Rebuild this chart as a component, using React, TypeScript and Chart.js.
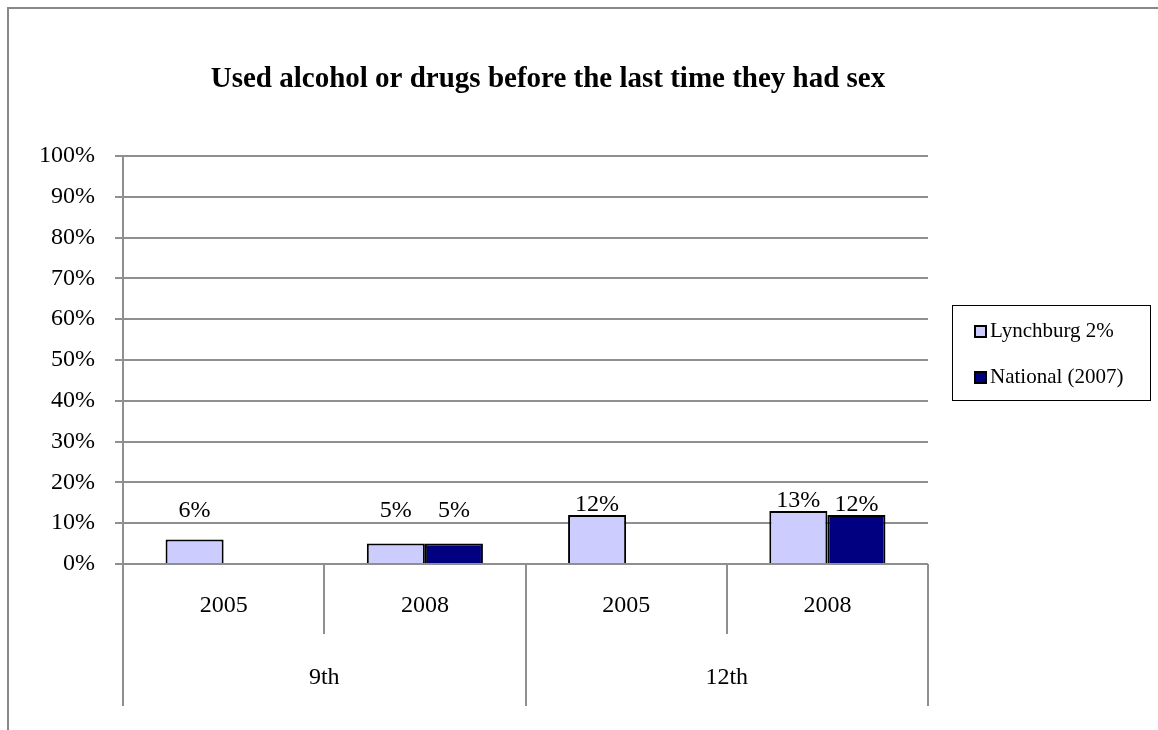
import React, { useEffect, useRef } from "react";
import { Chart, registerables } from "chart.js";

Chart.register(...registerables);

const TITLE = "Used alcohol or drugs before the last time they had sex";
const years = ["2005", "2008", "2005", "2008"];
const grades = ["9th", "12th"];
const seriesNames = ["Lynchburg 2%", "National (2007)"];
const lynchburg = [6, 5, 12, 13];
const national: (number | null)[] = [null, 5, null, 12];
const yTicks = [0, 10, 20, 30, 40, 50, 60, 70, 80, 90, 100];
const seriesColors = ["#CCCCFF", "#000080"];

const FONT = "'Liberation Serif', 'Times New Roman', serif";
const GRID = "#8f8f8f";

const chromePlugin = {
  id: "chrome",
  beforeDraw(chart: any) {
    const ctx = chart.ctx;
    ctx.save();
    ctx.fillStyle = "#ffffff";
    ctx.fillRect(0, 0, chart.width, chart.height);
    ctx.restore();
  },
  afterDraw(chart: any) {
    const ctx = chart.ctx;
    const { left, right, bottom } = chart.chartArea;
    const yScale = chart.scales.y;
    ctx.save();
    // outer frame
    ctx.fillStyle = "#888888";
    ctx.fillRect(7, 7, chart.width - 7, 2);
    ctx.fillRect(7, 7, 2, chart.height - 7);

    // title
    ctx.fillStyle = "#000";
    ctx.font = `bold 29px ${FONT}`;
    ctx.textAlign = "center";
    ctx.textBaseline = "alphabetic";
    ctx.fillText(TITLE, 548, 87);

    // category separators
    const n = years.length;
    const perGroup = n / grades.length;
    const w = (right - left) / n;
    ctx.strokeStyle = GRID;
    ctx.lineWidth = 2;
    for (let i = 0; i <= n; i++) {
      const x = Math.round(left + i * w);
      const len = i % perGroup === 0 ? 142 : 70;
      ctx.beginPath();
      ctx.moveTo(x, bottom);
      ctx.lineTo(x, bottom + len);
      ctx.stroke();
    }
    // category labels
    ctx.fillStyle = "#000";
    ctx.font = `24px ${FONT}`;
    ctx.textAlign = "center";
    ctx.textBaseline = "middle";
    years.forEach((yr, i) => {
      ctx.fillText(yr, left + (i + 0.5) * w, bottom + 42);
    });
    grades.forEach((g, gi) => {
      ctx.fillText(g, left + (gi + 0.5) * perGroup * w, bottom + 114);
    });

    // data labels
    chart.data.datasets.forEach((ds: any, di: number) => {
      const meta = chart.getDatasetMeta(di);
      meta.data.forEach((el: any, i: number) => {
        const v = ds.data[i];
        if (v === null || v === undefined) return;
        const ty = Math.min(el.y - 10, yScale.getPixelForValue(13));
        ctx.fillText(v + "%", el.x, ty);
      });
    });

    // legend
    ctx.strokeStyle = "#000";
    ctx.lineWidth = 1;
    ctx.strokeRect(952.5, 305.5, 198, 95);
    ctx.font = `21px ${FONT}`;
    ctx.textAlign = "left";
    ctx.textBaseline = "alphabetic";
    seriesNames.forEach((name, i) => {
      const cy = 331 + i * 46;
      ctx.fillStyle = seriesColors[i];
      ctx.fillRect(975, cy - 5, 11, 11);
      ctx.lineWidth = 2;
      ctx.strokeStyle = "#000";
      ctx.strokeRect(975, cy - 5, 11, 11);
      ctx.fillStyle = "#000";
      ctx.fillText(name, 990, cy + 6);
    });
    ctx.restore();
  },
};

export default function App() {
  const ref = useRef<HTMLCanvasElement | null>(null);
  useEffect(() => {
    if (!ref.current) return;
    const chart = new Chart(ref.current, {
      type: "bar",
      data: {
        labels: years,
        datasets: [
          {
            label: seriesNames[0],
            data: lynchburg,
            backgroundColor: seriesColors[0],
            borderColor: "#000",
            borderWidth: 2,
          },
          {
            label: seriesNames[1],
            data: national,
            backgroundColor: seriesColors[1],
            borderColor: "#000",
            borderWidth: 2,
          },
        ],
      },
      options: {
        responsive: false,
        animation: false,
        layout: { padding: { top: 156, left: 0, right: 230, bottom: 0 } },
        datasets: { bar: { categoryPercentage: 0.577, barPercentage: 1 } },
        plugins: {
          legend: { display: false },
          title: { display: false },
          tooltip: { enabled: false },
        },
        scales: {
          x: {
            ticks: { display: false },
            grid: { display: false },
            border: { display: false },
            afterFit(scale: any) {
              scale.height = 166;
            },
          },
          y: {
            min: 0,
            max: 100,
            afterBuildTicks(scale: any) {
              scale.ticks = yTicks.map((v) => ({ value: v }));
            },
            ticks: {
              callback: (v: any) => v + "%",
              color: "#000",
              font: { family: FONT, size: 24 },
              padding: 20,
            },
            grid: { color: GRID, lineWidth: 2, tickLength: 8 },
            border: { display: true, color: GRID, width: 2 },
            afterFit(scale: any) {
              scale.width = 123;
            },
          },
        },
      },
      plugins: [chromePlugin],
    });
    return () => chart.destroy();
  }, []);
  return (
    <div style={{ position: "absolute", left: 0, top: 0, width: 1158, height: 730, overflow: "hidden" }}>
      <canvas ref={ref} width={1158} height={730} style={{ display: "block" }} />
    </div>
  );
}
